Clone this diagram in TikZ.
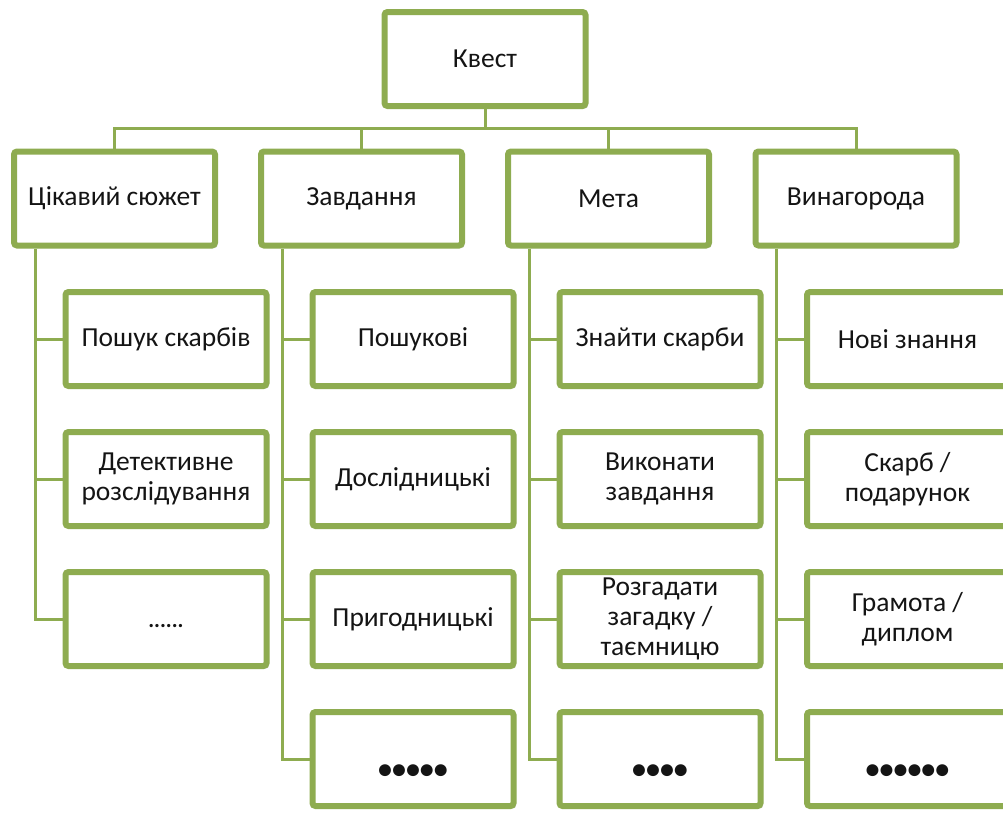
\documentclass[tikz,border=0pt]{standalone}
\usepackage{fontspec}
\setmainfont{Carlito}
\usetikzlibrary{calc,shadows,backgrounds}
\definecolor{grn}{RGB}{142,172,80}
\definecolor{txt}{RGB}{20,20,20}
\newcommand{\lowdots}[2]{\raisebox{#1}[0pt][0pt]{#2}}
\begin{document}
\begin{tikzpicture}[x=1pt,y=-1pt,
  box/.style={draw=grn, line width=6pt, fill=white, rounded corners=3pt,
    minimum width=201pt, minimum height=94pt, inner sep=2pt, align=center,
    font=\fontsize{27.5}{30}\selectfont, text=txt,
    drop shadow={opacity=0.3, shadow xshift=2.5pt, shadow yshift=-2.5pt}},
  conn/.style={draw=grn, line width=3pt},
  bigdots/.style={font=\fontsize{28}{30}\selectfont\bfseries},
  smalldots/.style={font=\fontsize{22}{26}\selectfont\bfseries}]
\useasboundingbox (0,0) rectangle (1003,812);
% root and level 1
\node[box] (root) at (485,59) {Квест};
\node[box] (p1) at (114.5,198.5) {Цікавий сюжет};
\node[box] (p2) at (361.5,198.5) {Завдання};
\node[box] (p3) at (608.5,198.5) {Мета};
\node[box] (p4) at (856,198.5) {Винагорода};
% column 1
\node[box] (a1) at (166,339) {Пошук скарбів};
\node[box] (a2) at (166,479) {Детективне\\розслідування};
\node[box, smalldots] (a3) at (166,619) {\lowdots{-8pt}{......}};
% column 2
\node[box] (b1) at (413,339) {Пошукові};
\node[box] (b2) at (413,479) {Дослідницькі};
\node[box] (b3) at (413,619) {Пригодницькі};
\node[box, bigdots] (b4) at (413,759) {\lowdots{-19pt}{•••••}};
% column 3
\node[box] (c1) at (660,339) {Знайти скарби};
\node[box] (c2) at (660,479) {Виконати\\завдання};
\node[box] (c3) at (660,619) {Розгадати\\загадку /\\таємницю};
\node[box, bigdots] (c4) at (660,759) {\lowdots{-19pt}{••••}};
% column 4
\node[box] (d1) at (907.5,339) {Нові знання};
\node[box] (d2) at (907.5,479) {Скарб /\\подарунок};
\node[box] (d3) at (907.5,619) {Грамота /\\диплом};
\node[box, bigdots] (d4) at (907.5,759) {\lowdots{-19pt}{••••••}};
% connectors
\begin{scope}[on background layer]
\coordinate (bus) at (485,128);
\draw[conn] (root.south) -- (root.south |- bus);
\draw[conn] (p1.north) -- (p1.north |- bus) -- (p4.north |- bus) -- (p4.north);
\draw[conn] (p2.north) -- (p2.north |- bus);
\draw[conn] (p3.north) -- (p3.north |- bus);
\coordinate (s1) at ($(p1.south west)+(24,0)$);
\coordinate (s2) at ($(p2.south west)+(24,0)$);
\coordinate (s3) at ($(p3.south west)+(24,0)$);
\coordinate (s4) at ($(p4.south west)+(24,0)$);
\draw[conn] (s1) |- (a3.west);
\draw[conn] (s1 |- a1.west) -- (a1.west);
\draw[conn] (s1 |- a2.west) -- (a2.west);
\draw[conn] (s2) |- (b4.west);
\draw[conn] (s2 |- b1.west) -- (b1.west);
\draw[conn] (s2 |- b2.west) -- (b2.west);
\draw[conn] (s2 |- b3.west) -- (b3.west);
\draw[conn] (s3) |- (c4.west);
\draw[conn] (s3 |- c1.west) -- (c1.west);
\draw[conn] (s3 |- c2.west) -- (c2.west);
\draw[conn] (s3 |- c3.west) -- (c3.west);
\draw[conn] (s4) |- (d4.west);
\draw[conn] (s4 |- d1.west) -- (d1.west);
\draw[conn] (s4 |- d2.west) -- (d2.west);
\draw[conn] (s4 |- d3.west) -- (d3.west);
\end{scope}
\end{tikzpicture}
\end{document}
